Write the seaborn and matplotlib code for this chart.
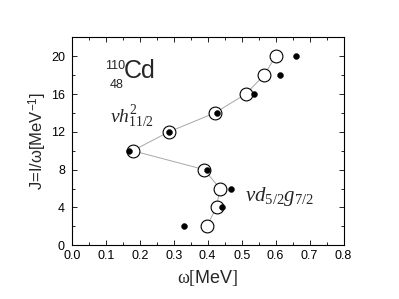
import matplotlib
matplotlib.use("Agg")
import matplotlib.pyplot as plt
import seaborn as sns
import pandas as pd
from matplotlib.ticker import MultipleLocator

sns.set_theme(style="ticks")
plt.rcParams['font.family'] = ['Liberation Sans', 'DejaVu Sans']
plt.rcParams['mathtext.fontset'] = 'custom'
plt.rcParams['mathtext.rm'] = 'Liberation Serif'
plt.rcParams['mathtext.it'] = 'Liberation Serif:italic'
plt.rcParams['mathtext.sf'] = 'Liberation Sans'

J = [2, 4, 6, 8, 10, 12, 14, 16, 18, 20]
omega_open = [0.397, 0.426, 0.436, 0.390, 0.179, 0.286, 0.421, 0.512, 0.566, 0.600]
omega_fill = [0.329, 0.443, 0.469, 0.398, 0.169, 0.286, 0.426, 0.537, 0.612, 0.661]

df_open = pd.DataFrame({"omega": omega_open, "J": J})
df_fill = pd.DataFrame({"omega": omega_fill, "J": J})

fig = plt.figure(figsize=(3.99, 2.99), dpi=100)
ax = fig.add_axes([0.180, 0.180, 0.681, 0.695])

sns.lineplot(data=df_open, x="omega", y="J", sort=False, color="#a8a8a8",
             linewidth=0.7, ax=ax, zorder=1)
sns.scatterplot(data=df_open, x="omega", y="J", s=85, facecolor="white",
                edgecolor="black", linewidth=0.8, ax=ax, zorder=2)
sns.scatterplot(data=df_fill, x="omega", y="J", s=18, color="black",
                edgecolor="black", ax=ax, zorder=3)

ax.set_xlim(0, 0.8)
ax.set_ylim(0, 22)
ax.xaxis.set_major_locator(MultipleLocator(0.1))
ax.xaxis.set_minor_locator(MultipleLocator(0.05))
ax.yaxis.set_major_locator(MultipleLocator(4))
ax.yaxis.set_minor_locator(MultipleLocator(2))
ax.set_yticks([0, 4, 8, 12, 16, 20])
ax.tick_params(which="both", direction="in", top=True, right=True,
               labelsize=9, width=0.6, colors="black")
ax.tick_params(which="major", length=3.5, pad=3.5)
ax.tick_params(which="minor", length=2)
ax.tick_params(axis="y", which="major", pad=5)
for s in ax.spines.values():
    s.set_linewidth(0.8)
    s.set_color("black")

ax.set_xlabel(r"$\mathrm{\omega[}$MeV$\mathrm{]}$", fontsize=13, labelpad=4)
ax.set_ylabel(r"J=I/ω[MeV$^{\mathsf{-1}}$]", fontsize=12, labelpad=1)

ax.text(0.097, 19.0, "110", fontsize=9, ha="left", va="center")
ax.text(0.112, 17.0, "48", fontsize=9, ha="left", va="center")
ax.text(0.153, 18.4, "Cd", fontsize=18, ha="left", va="center")
ax.text(0.112, 13.6, r"$\nu h_{11/2}^{2}$", fontsize=14, ha="left", va="center")
ax.text(0.51, 5.2, r"$\nu d_{5/2}g_{7/2}$", fontsize=15, ha="left", va="center")

fig.savefig("out.png", dpi=100)
